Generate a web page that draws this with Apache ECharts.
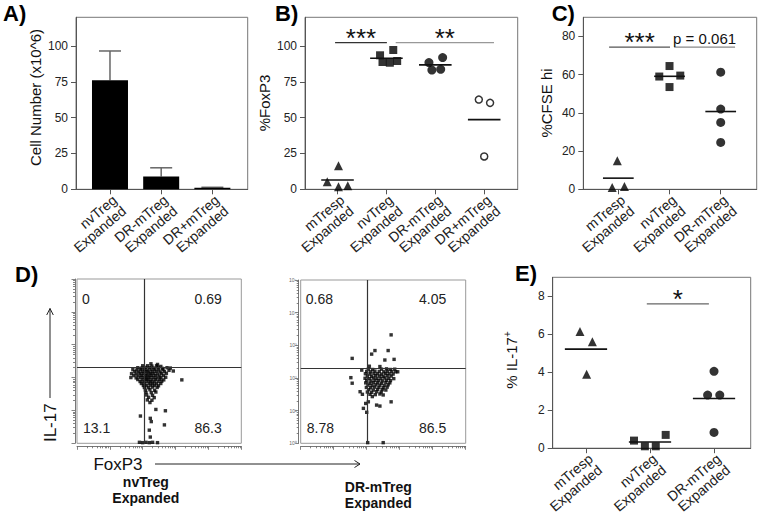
<!DOCTYPE html>
<html><head><meta charset="utf-8">
<script src="https://cdn.jsdelivr.net/npm/echarts@6/dist/echarts.min.js"></script>
<style>html,body{margin:0;padding:0;background:#fff}#c{width:760px;height:517px}</style>
</head><body><div id="c"></div>
<script>
// ---------------- DATA ----------------
const catsA = ['nvTreg\nExpanded', 'DR-mTreg\nExpanded', 'DR+mTreg\nExpanded'];
const cellNumber = [76, 9, 1];
const cellNumberUpper = [96.5, 15, 1.4];

const catsB = ['mTresp\nExpanded', 'nvTreg\nExpanded', 'DR-mTreg\nExpanded', 'DR+mTreg\nExpanded'];
const foxp3_mTresp = [5.3, 16.5, 1.8, 2.5];
const foxp3_nvTreg = [93.5, 97.2, 88.8, 88.3, 89.5];
const foxp3_DRmTreg = [88.4, 91.9, 83.2, 83.7];
const foxp3_DRpTreg = [62.6, 60.3, 22.9];
const jitterB = [[-0.21, 0.02, 0.02, 0.21], [-0.13, 0.14, -0.08, 0.07, 0.22], [-0.13, 0.15, -0.07, 0.11], [-0.11, 0.12, 0]];
const sigB = [{from: -0.05, to: 1.01, y: 102.4, label: '***'}, {from: 1.19, to: 3.2, y: 102.4, label: '**'}];

const catsC = ['mTresp\nExpanded', 'nvTreg\nExpanded', 'DR-mTreg\nExpanded'];
const cfse_mTresp = [1, 15, 1.5];
const cfse_nvTreg = [59, 64.5, 59.5, 53.5];
const cfse_DRmTreg = [61.3, 42, 35, 24.5];
const jitterC = [[-0.12, -0.02, 0.12], [-0.2, 0, 0.21, 0], [0, 0, 0, 0]];
const sigC = [{from: -0.18, to: 1.01, y: 74.4, label: '***'}, {from: 1.09, to: 2.28, y: 74.4, label: 'p = 0.061'}];

const catsE = ['mTresp\nExpanded', 'nvTreg\nExpanded', 'DR-mTreg\nExpanded'];
const il17_mTresp = [6.15, 5.6, 3.9];
const il17_nvTreg = [0.4, 0.1, 0.1, 0.7];
const il17_DRmTreg = [4.05, 2.8, 2.8, 0.83];
const jitterE = [[-0.094, 0.10, 0.01], [-0.25, -0.08, 0.09, 0.245], [0, -0.1, 0.09, 0]];
const sigE = [{from: 0.95, to: 1.92, y: 7.6, label: '*'}];

// Flow cytometry (log10 display units), quadrant gates and quadrant percentages
const flowTitles = [['nvTreg', 'Expanded'], ['DR-mTreg', 'Expanded']];
const gateX = [2.05, 2.03];
const gateY = [2.30, 2.31];
const quadNv = ['0', '0.69', '13.1', '86.3'];   // UL, UR, LL, LR
const quadDR = ['0.68', '4.05', '8.78', '86.5'];
const flowNv = [
[2.25,2.42],[2.45,2.40],
[2.00,2.36],[2.15,2.36],[2.28,2.35],[2.42,2.36],[2.55,2.34],
[1.85,2.30],[1.97,2.29],[2.08,2.31],[2.20,2.30],[2.33,2.29],[2.47,2.30],[2.60,2.28],[2.74,2.30],[2.84,2.29],
[1.70,2.24],[1.82,2.23],[1.93,2.25],[2.05,2.24],[2.14,2.23],[2.25,2.25],[2.37,2.24],[2.49,2.23],[2.62,2.24],[2.80,2.22],
[1.76,2.18],[1.88,2.17],[1.99,2.19],[2.10,2.18],[2.19,2.17],[2.30,2.18],[2.41,2.19],[2.53,2.17],[2.66,2.18],[2.93,2.20],
[1.66,2.12],[1.80,2.11],[1.92,2.13],[2.03,2.12],[2.13,2.11],[2.23,2.13],[2.34,2.12],[2.45,2.11],[2.57,2.12],[2.72,2.13],
[1.73,2.06],[1.86,2.05],[1.97,2.07],[2.08,2.06],[2.17,2.05],[2.27,2.07],[2.38,2.06],[2.50,2.05],[2.63,2.06],
[1.64,2.00],[1.80,1.99],[1.93,2.01],[2.03,2.00],[2.12,1.99],[2.22,2.01],[2.32,2.00],[2.43,1.99],[2.55,2.00],[2.70,2.01],
[1.85,1.94],[1.98,1.93],[2.08,1.95],[2.18,1.94],[2.28,1.93],[2.39,1.94],[2.52,1.95],[2.64,1.93],
[1.92,1.88],[2.04,1.87],[2.13,1.89],[2.24,1.88],[2.35,1.87],[2.47,1.88],[2.58,1.89],
[1.96,1.82],[2.07,1.81],[2.19,1.83],[2.30,1.82],[2.42,1.81],[2.55,1.82],
[2.02,1.76],[2.12,1.75],[2.23,1.77],[2.35,1.76],[2.48,1.75],
[2.05,1.70],[2.18,1.69],[2.30,1.71],[2.44,1.70],
[2.08,1.62],[2.22,1.63],[2.36,1.61],
[2.10,1.55],[2.26,1.54],[2.40,1.56],
[2.12,1.47],[2.30,1.46],
[2.18,1.40],[2.35,1.39],
[2.14,1.32],[2.28,1.31],
[2.22,1.24],
[3.19,1.93],[1.93,0.83],[2.23,0.76],[2.26,0.66],[2.69,0.99],[2.40,1.03],[2.66,0.56],[2.20,0.40],[2.23,0.19],
[1.90,0.03],[2.00,0.02],[2.10,0.03],[2.20,0.02],[2.30,0.03],[2.45,0.02]
];
const flowDR = [
[2.74,3.32],[2.25,2.84],[2.15,2.73],[2.65,2.84],[2.55,2.55],[2.83,2.57],[1.56,2.60],[2.08,2.36],[2.40,2.35],
[2.05,2.27],[2.18,2.26],[2.45,2.27],[2.60,2.28],[2.72,2.26],[2.85,2.27],
[2.00,2.20],[2.12,2.19],[2.25,2.21],[2.38,2.20],[2.52,2.19],[2.63,2.21],[2.76,2.20],[2.88,2.19],
[1.96,2.13],[2.10,2.12],[2.22,2.14],[2.33,2.13],[2.45,2.12],[2.57,2.14],[2.68,2.13],[2.80,2.12],
[2.02,2.06],[2.15,2.05],[2.27,2.07],[2.39,2.06],[2.50,2.05],[2.62,2.07],[2.74,2.06],
[1.95,1.99],[2.08,1.98],[2.20,2.00],[2.31,1.99],[2.43,1.98],[2.55,2.00],[2.67,1.99],[2.82,1.98],
[2.00,1.92],[2.13,1.91],[2.25,1.93],[2.36,1.92],[2.48,1.91],[2.60,1.93],[2.72,1.92],
[1.97,1.85],[2.10,1.84],[2.21,1.86],[2.33,1.85],[2.45,1.84],[2.58,1.86],[2.70,1.85],
[2.04,1.78],[2.16,1.77],[2.28,1.79],[2.40,1.78],[2.53,1.77],[2.65,1.79],
[1.99,1.71],[2.12,1.70],[2.24,1.72],[2.37,1.71],[2.50,1.70],[2.62,1.72],
[2.06,1.64],[2.20,1.63],[2.33,1.65],[2.47,1.64],[2.58,1.63],
[2.02,1.57],[2.15,1.56],[2.30,1.58],[2.44,1.57],
[2.10,1.50],[2.26,1.49],[2.40,1.51],
[1.52,2.01],[1.56,1.84],[1.85,2.24],[1.80,1.58],[2.94,2.19],[2.74,1.27],[2.30,1.17],[2.40,1.14],[1.90,1.07],[2.00,0.95],[1.87,1.50],[2.05,1.27],[2.17,1.43],[2.50,1.48],[1.97,1.22],[2.03,0.02],[2.50,0.02]
];
const decadeTicks = [0, 1, 2, 3, 4, 5];

// ---------------- HELPERS ----------------
const FONT = "'Liberation Sans', Arial, Helvetica, sans-serif";
const AX = '#555';
const mean = a => a.reduce((s, v) => s + v, 0) / a.length;
const minorTicks = [];
for (let d = 0; d < 5; d++) for (let k = 2; k <= 9; k++) minorTicks.push(+(d + Math.log10(k)).toFixed(4));
const sup = v => ({'0':'⁰','1':'¹','2':'²','3':'³','4':'⁴','5':'⁵'})[String(v)];

function gridOf(left, top, width, height, color) {
  return {left, top, width, height, show: true, borderColor: color || '#777', borderWidth: 1, containLabel: false};
}
function catAxis(gridIndex, cats, min, max) {
  const idx = cats.map((_, i) => i);
  return {type: 'value', gridIndex, min, max,
    axisLine: {show: true, onZero: false, lineStyle: {color: AX, width: 1}},
    axisTick: {show: true, length: 5, customValues: idx, lineStyle: {color: AX}},
    axisLabel: {show: true, customValues: idx, formatter: v => cats[Math.round(v)], rotate: 40,
      showMinLabel: true, showMaxLabel: true, hideOverlap: false,
      fontSize: 14, color: '#222', fontFamily: FONT, margin: 3, align: 'right', verticalAlign: 'top', lineHeight: 14.5, padding: 0},
    splitLine: {show: false}};
}
function valAxis(gridIndex, max, ticks) {
  return {type: 'value', gridIndex, min: 0, max,
    axisLine: {show: true, onZero: false, lineStyle: {color: AX, width: 1}},
    axisTick: {show: true, length: 5, customValues: ticks, lineStyle: {color: AX}},
    axisLabel: {customValues: ticks, fontSize: 12, color: '#222', fontFamily: FONT, margin: 8, showMinLabel: true, showMaxLabel: true},
    splitLine: {show: false}};
}
function flowAxis(gridIndex, dim, minor, labels) {
  const ax = {type: 'value', gridIndex, min: 0, max: 5,
    position: dim === 'x' ? 'bottom' : 'left', offset: dim === 'x' ? 3 : 2,
    axisLine: {show: !minor, onZero: false, lineStyle: {color: '#777', width: 1}},
    axisTick: {show: true, length: minor ? 2 : 3.5, customValues: minor ? minorTicks : decadeTicks, lineStyle: {color: '#666', width: 0.8}},
    axisLabel: {show: false}, splitLine: {show: false}};
  if (labels && !minor) {
    ax.axisLabel = {show: true, customValues: decadeTicks, formatter: v => '10' + sup(v), fontSize: 5, color: '#666', margin: 2, fontFamily: FONT, showMinLabel: true, showMaxLabel: true};
  }
  return ax;
}
function dots(xi, group, values, jitter, symbol, size, style) {
  return {type: 'scatter', xAxisIndex: xi, yAxisIndex: xi, symbol, symbolSize: size, silent: true, z: 3,
    data: values.map((v, k) => [group + jitter[k], v]), itemStyle: style};
}
function meanSeries(xi, groups, hw) {
  return {type: 'custom', xAxisIndex: xi, yAxisIndex: xi, silent: true, z: 4,
    data: groups.map((g, i) => [i, mean(g)]),
    renderItem: (params, api) => {
      const p1 = api.coord([api.value(0) - hw, api.value(1)]);
      const p2 = api.coord([api.value(0) + hw, api.value(1)]);
      return {type: 'line', shape: {x1: p1[0], y1: p1[1], x2: p2[0], y2: p2[1]}, style: {stroke: '#111', lineWidth: 1.6}};
    }};
}
function sigSeries(xi, sigs, colors) {
  return {type: 'custom', xAxisIndex: xi, yAxisIndex: xi, silent: true, z: 4,
    data: sigs.map(s => [s.from, s.to, s.y]), encode: {x: [0, 1], y: 2},
    renderItem: (params, api) => {
      const s = sigs[params.dataIndex];
      const p1 = api.coord([api.value(0), api.value(2)]);
      const p2 = api.coord([api.value(1), api.value(2)]);
      const star = /^\*+$/.test(s.label);
      return {type: 'group', children: [
        {type: 'line', shape: {x1: p1[0], y1: p1[1], x2: p2[0], y2: p2[1]}, style: {stroke: colors[params.dataIndex], lineWidth: 1.3}},
        {type: 'text', x: (p1[0] + p2[0]) / 2, y: star ? p1[1] - 5 : p1[1] - 1,
          style: {text: s.label, fill: '#111', font: (star ? '26px ' : '15px ') + FONT, align: 'center', verticalAlign: star ? 'middle' : 'bottom'}}
      ]};
    }};
}
function flowSeries(xi, yi, pts, k) {
  return {type: 'scatter', xAxisIndex: xi, yAxisIndex: yi, symbol: 'rect', symbolSize: 3.4, silent: true,
    itemStyle: {color: '#000'}, data: pts,
    markLine: {silent: true, symbol: 'none', animation: false, label: {show: false},
      lineStyle: {color: '#333', width: 1.2, type: 'solid'},
      data: [{xAxis: gateX[k]}, {yAxis: gateY[k]}]}};
}
function txt(x, y, text, size, opts) {
  opts = opts || {};
  return {type: 'text', x, y, rotation: opts.rot || 0, silent: true,
    style: {text, x: 0, y: 0, fill: opts.color || '#111', font: (opts.bold ? 'bold ' : '') + size + 'px ' + FONT,
      textAlign: opts.align || 'center', align: opts.align || 'center', textVerticalAlign: 'middle', verticalAlign: 'middle', rich: opts.rich}};
}
function line(x1, y1, x2, y2) {
  return {type: 'line', silent: true, shape: {x1, y1, x2, y2}, style: {stroke: '#222', lineWidth: 1}};
}
function arrowHead(points) {
  return {type: 'polyline', silent: true, shape: {points}, style: {stroke: '#222', lineWidth: 1, fill: null}};
}

// ---------------- CHART ----------------
const chart = echarts.init(document.getElementById('c'), null, {renderer: 'svg', width: 760, height: 517});
const R = Math.PI / 2;
const quadText = (box, q) => [
  txt(box[0] + 5, 299.3, q[0], 14, {align: 'left', color: '#222'}),
  txt(box[1] - 19.5, 299.3, q[1], 14, {align: 'right', color: '#222'}),
  txt(box[0] + 6, 428.3, q[2], 14, {align: 'left', color: '#222'}),
  txt(box[1] - 19.5, 428.3, q[3], 14, {align: 'right', color: '#222'})
];

chart.setOption({
  animation: false,
  backgroundColor: '#fff',
  textStyle: {fontFamily: FONT},
  grid: [
    gridOf(76, 17.3, 171.7, 172),
    gridOf(305, 17.3, 212.7, 172),
    gridOf(583.3, 17.3, 173.4, 172),
    gridOf(77, 279, 164.3, 164.3, '#999'),
    gridOf(300.7, 280, 165, 163.3, '#999'),
    gridOf(552.7, 277.3, 198, 172)
  ],
  xAxis: [
    catAxis(0, catsA, -0.664, 2.69),
    catAxis(1, catsB, -0.665, 3.685),
    catAxis(2, catsC, -0.684, 2.703),
    flowAxis(3, 'x', false), flowAxis(3, 'x', true),
    flowAxis(4, 'x', false), flowAxis(4, 'x', true),
    catAxis(5, catsE, -0.52, 2.573)
  ],
  yAxis: [
    valAxis(0, 120, [0, 25, 50, 75, 100]),
    valAxis(1, 120, [0, 25, 50, 75, 100]),
    valAxis(2, 90, [0, 20, 40, 60, 80]),
    flowAxis(3, 'y', false), flowAxis(3, 'y', true),
    flowAxis(4, 'y', false, true), flowAxis(4, 'y', true),
    valAxis(5, 9, [0, 2, 4, 6, 8])
  ],
  series: [
    // A
    {type: 'bar', xAxisIndex: 0, yAxisIndex: 0, barWidth: 36, silent: true,
      data: cellNumber.map((v, i) => [i, v]), itemStyle: {color: '#000'}},
    {type: 'custom', xAxisIndex: 0, yAxisIndex: 0, silent: true, z: 1,
      data: cellNumber.map((v, i) => [i, v, cellNumberUpper[i]]), encode: {x: 0, y: [1, 2]},
      renderItem: (params, api) => {
        const b = api.coord([api.value(0), api.value(1)]);
        const t = api.coord([api.value(0), api.value(2)]);
        const st = {stroke: '#666', lineWidth: 1.5};
        return {type: 'group', children: [
          {type: 'line', shape: {x1: b[0], y1: b[1], x2: t[0], y2: t[1]}, style: st},
          {type: 'line', shape: {x1: t[0] - 11, y1: t[1], x2: t[0] + 11, y2: t[1]}, style: st}
        ]};
      }},
    // B
    dots(1, 0, foxp3_mTresp, jitterB[0], 'triangle', 9, {color: '#000'}),
    dots(1, 1, foxp3_nvTreg, jitterB[1], 'rect', 8, {color: '#000'}),
    dots(1, 2, foxp3_DRmTreg, jitterB[2], 'circle', 9, {color: '#000'}),
    dots(1, 3, foxp3_DRpTreg, jitterB[3], 'circle', 7, {color: '#fff', borderColor: '#000', borderWidth: 1.5}),
    meanSeries(1, [foxp3_mTresp, foxp3_nvTreg, foxp3_DRmTreg, foxp3_DRpTreg], 0.333),
    sigSeries(1, sigB, ['#333', '#999']),
    // C
    dots(2, 0, cfse_mTresp, jitterC[0], 'triangle', 9, {color: '#000'}),
    dots(2, 1, cfse_nvTreg, jitterC[1], 'rect', 8, {color: '#000'}),
    dots(2, 2, cfse_DRmTreg, jitterC[2], 'circle', 9, {color: '#000'}),
    meanSeries(2, [cfse_mTresp, cfse_nvTreg, cfse_DRmTreg], 0.3),
    sigSeries(2, sigC, ['#555', '#888']),
    // D
    flowSeries(3, 3, flowNv, 0),
    flowSeries(5, 5, flowDR, 1),
    // E
    dots(7, 0, il17_mTresp, jitterE[0], 'triangle', 9, {color: '#000'}),
    dots(7, 1, il17_nvTreg, jitterE[1], 'rect', 8, {color: '#000'}),
    dots(7, 2, il17_DRmTreg, jitterE[2], 'circle', 9, {color: '#000'}),
    meanSeries(7, [il17_mTresp, il17_nvTreg, il17_DRmTreg], 0.33),
    sigSeries(7, sigE, ['#666'])
  ],
  graphic: {elements: [
    txt(3, 13, 'A)', 22, {bold: true, align: 'left', color: '#000'}),
    txt(275, 13, 'B)', 22, {bold: true, align: 'left', color: '#000'}),
    txt(551.7, 13, 'C)', 22, {bold: true, align: 'left', color: '#000'}),
    txt(15, 274, 'D)', 22, {bold: true, align: 'left', color: '#000'}),
    txt(515, 273.5, 'E)', 22, {bold: true, align: 'left', color: '#000'}),
    txt(35.5, 97.5, 'Cell Number (x10^6)', 15, {rot: R}),
    txt(264.5, 103, '%FoxP3', 15, {rot: R}),
    txt(546, 103, '%CFSE hi', 15, {rot: R}),
    txt(511, 360, '{a|% IL-17}{b|+}', 15, {rot: R, rich: {a: {fontSize: 15, fontFamily: FONT, fill: '#111'}, b: {fontSize: 10, fontFamily: FONT, fill: '#111', padding: [0, 0, 8, 0]}}}),
    txt(50, 422.7, 'IL-17', 17, {rot: R}),
    txt(118, 464.5, 'FoxP3', 17),
    line(50, 398, 50, 308.5), arrowHead([[46.7, 315], [50, 308.5], [53.3, 315]]),
    line(155, 464, 360, 464), arrowHead([[354.5, 460.5], [360, 464], [354.5, 467.5]]),
    txt(145.8, 481.7, flowTitles[0][0], 14, {bold: true}),
    txt(145.8, 498.3, flowTitles[0][1], 14, {bold: true}),
    txt(378.3, 486.7, flowTitles[1][0], 14, {bold: true}),
    txt(378.3, 502.7, flowTitles[1][1], 14, {bold: true})
  ].concat(quadText([77, 241.3], quadNv), quadText([300.7, 465.7], quadDR))}
});
</script></body></html>
